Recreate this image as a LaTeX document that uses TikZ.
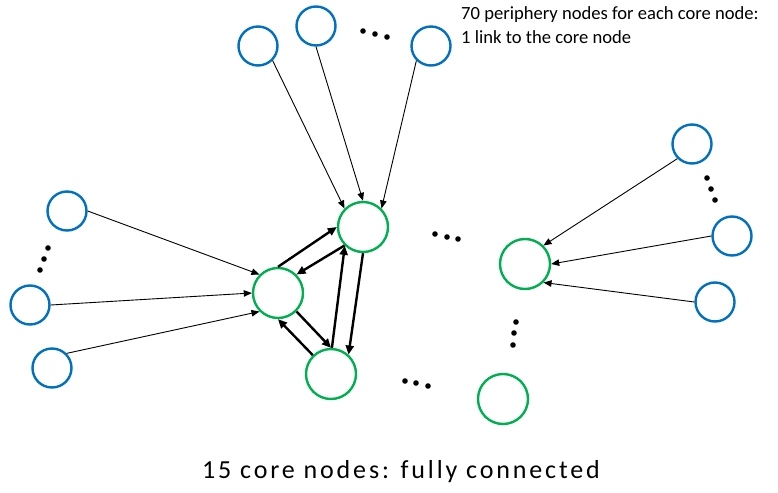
\documentclass[tikz,border=0pt]{standalone}
\usepackage{fontspec}
\setmainfont{Carlito}
\usetikzlibrary{arrows.meta}
\definecolor{pblue}{HTML}{0070C0}
\definecolor{cgreen}{HTML}{00B050}

\begin{document}
\begin{tikzpicture}[x=1pt,y=-1pt,
    periph/.style={circle, draw=pblue, line width=2.4pt, minimum size=39pt, inner sep=0pt},
    core/.style={circle, draw=cgreen, line width=2.4pt, minimum size=50pt, inner sep=0pt},
    plink/.style={line width=0.9pt, -{Triangle[length=8pt,width=6.5pt]}},
    clink/.style={line width=2.4pt, -{Triangle[length=9pt,width=8pt]}},
    dot/.style={fill=black}]
    \useasboundingbox (0,0) rectangle (778,492);
    % Core nodes
    \node[core] (C1) at (363,227) {};
    \node[core] (C2) at (278,293) {};
    \node[core] (C3) at (331,374) {};
    \node[core] (C4) at (525,264) {};
    \node[core] (C5) at (503,399) {};
    % Periphery nodes
    \node[periph] (T1) at (258,46) {};
    \node[periph] (T2) at (316,26) {};
    \node[periph] (T3) at (431,46) {};
    \node[periph] (L1) at (67,211) {};
    \node[periph] (L2) at (30,305) {};
    \node[periph] (L3) at (52,368) {};
    \node[periph] (R1) at (692,144) {};
    \node[periph] (R2) at (732,236) {};
    \node[periph] (R3) at (715,302) {};
    % Links to the core nodes
    \draw[plink] (T1.315) -- (C1.135);
    \draw[plink] (T2.south) -- (C1.north);
    \draw[plink] (T3.225) -- (C1.45);
    \draw[plink] (L1.east) -- (C2.135);
    \draw[plink] (L2.east) -- (C2.west);
    \draw[plink] (L3.45) -- (C2.225);
    \draw[plink] (R1.225) -- (C4.45);
    \draw[plink] (R2.west) -- (C4.east);
    \draw[plink] (R3.west) -- (C4.315);
    % Core links
    \draw[clink] (C2.north) -- (C1.west);
    \draw[clink] (C1.225) -- (C2.45);
    \draw[clink] (C2.315) -- (C3.north);
    \draw[clink] (C3.134) -- (C2.south);
    \draw[clink] (C3.88) -- (C1.226);
    \draw[clink] (C1.south) -- (C3.48);
    % Dots
    \foreach \p in {(363,31),(375,34),(387,37), (48,248),(44,259),(40,270),
        (707,178),(711,189),(715,200), (435,234),(447,237),(458,239),
        (516,322),(514,333),(513,345), (405,381),(416,383),(428,386)}
        \fill[dot] \p circle (2.8pt);
    % Texts
    \node[anchor=base west, inner sep=0pt, font=\fontsize{18.6}{24}\selectfont]
        (note1) at (461,20) {70 periphery nodes for each core node:};
    \node[anchor=base west, inner sep=0pt, font=\fontsize{18.6}{24}\selectfont]
        (note2) at (461,44) {1 link to the core node};
    \node[anchor=base, inner sep=0pt, font=\fontsize{26}{30}\selectfont\addfontfeature{LetterSpace=11}]
        (title) at (401,478) {15 core nodes: fully connected};
\end{tikzpicture}
\end{document}
